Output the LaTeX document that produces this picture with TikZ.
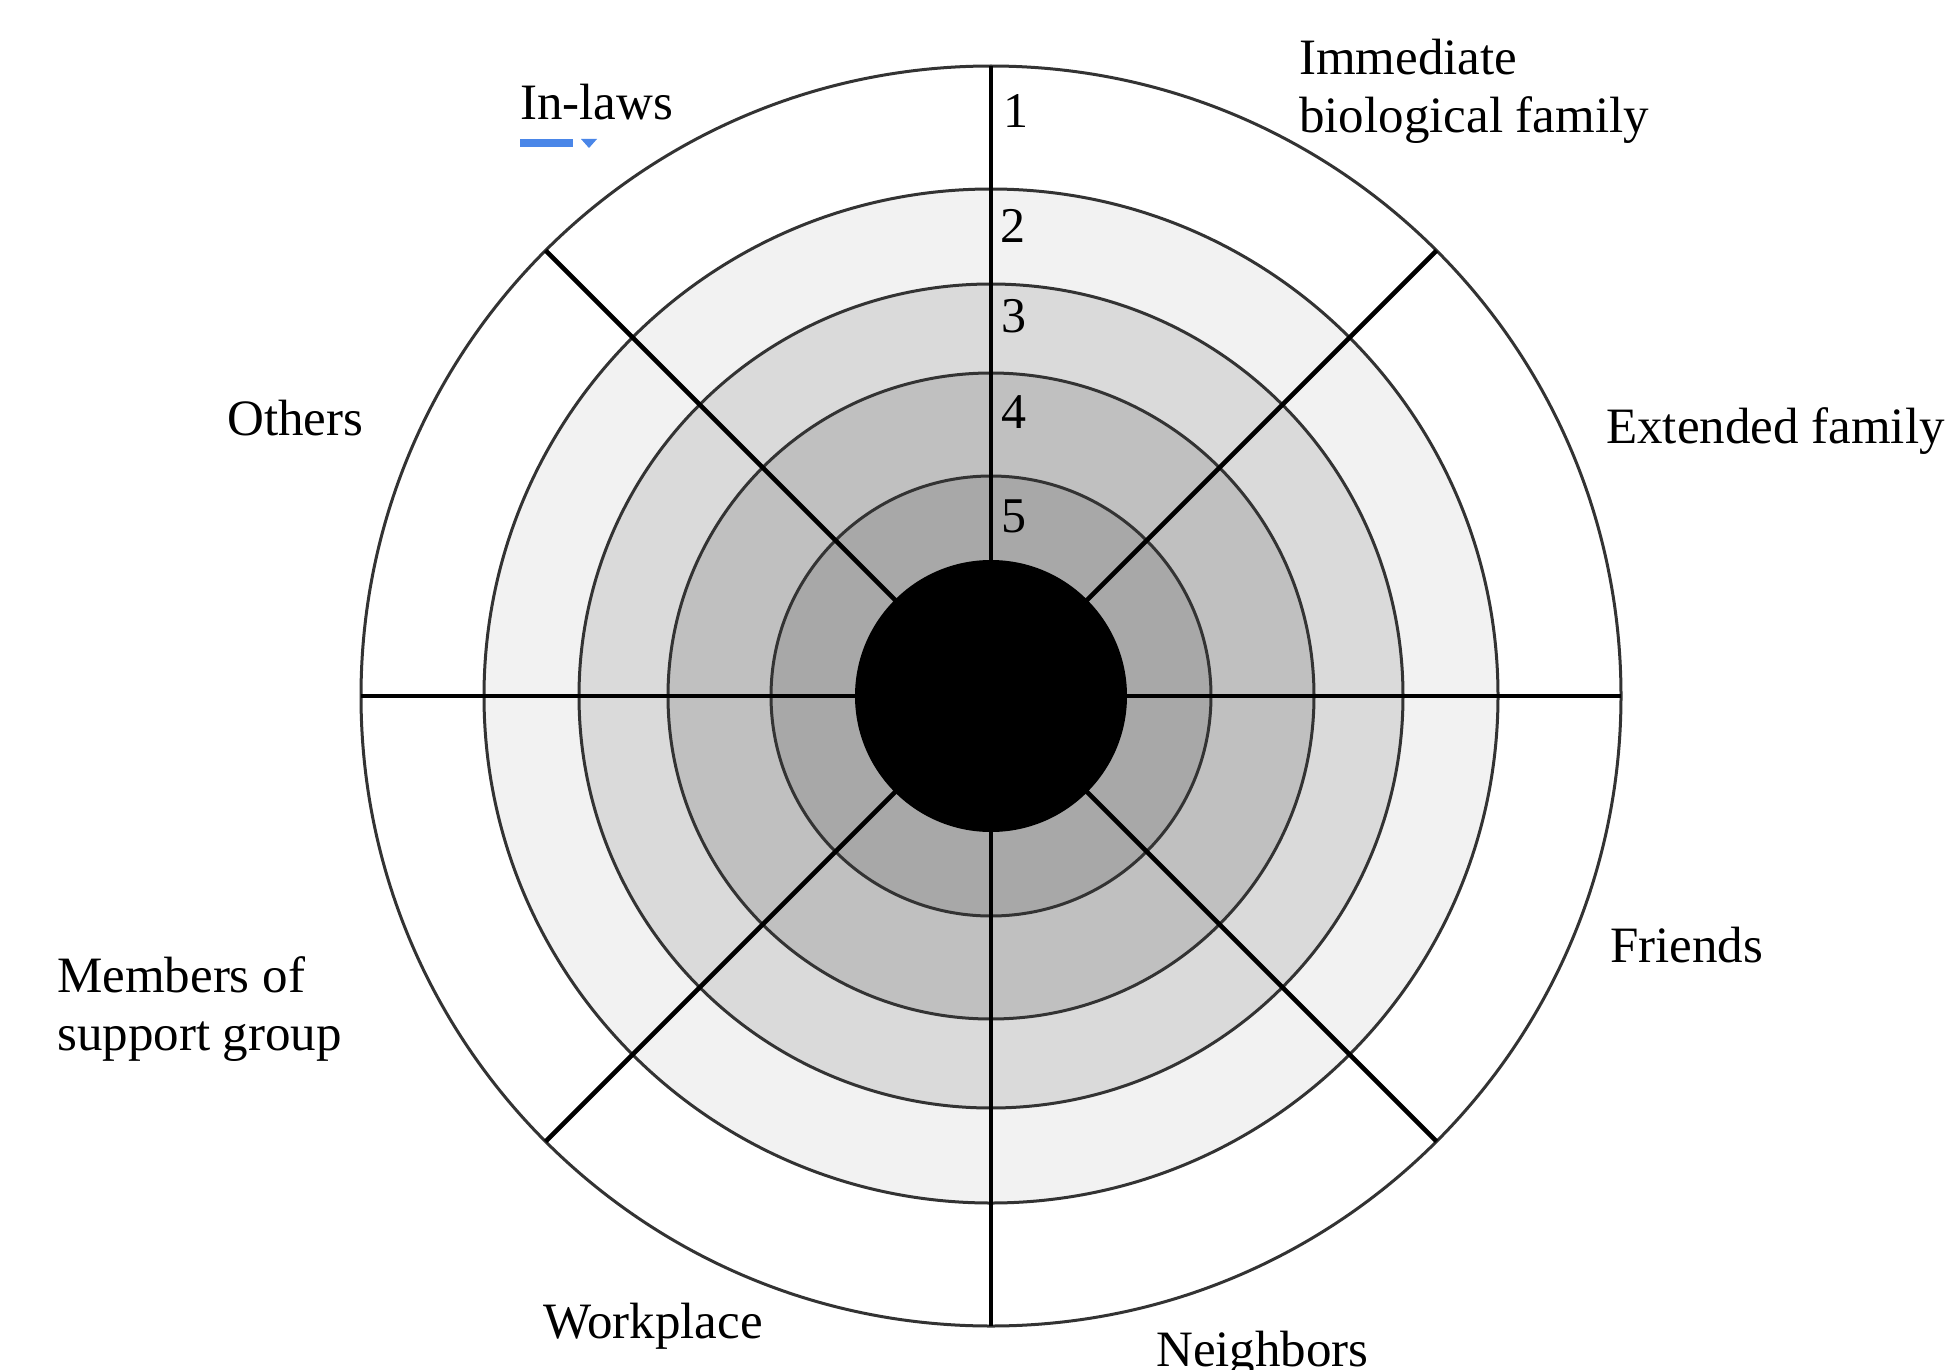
\documentclass[tikz,border=0pt]{standalone}
\usepackage{fontspec}
\usetikzlibrary{calc}
\setmainfont{Liberation Serif}
\definecolor{ringA}{HTML}{F2F2F2}
\definecolor{ringB}{HTML}{DADADA}
\definecolor{ringC}{HTML}{C0C0C0}
\definecolor{ringD}{HTML}{A8A8A8}
\definecolor{ringline}{HTML}{333333}
\definecolor{markblue}{HTML}{4A86E8}
\begin{document}
\begin{tikzpicture}[x=1pt,y=-1pt,
  lbl/.style={anchor=base west,inner sep=0pt,font=\fontsize{51}{58}\selectfont},
  num/.style={anchor=base west,inner sep=0pt,font=\fontsize{50}{58}\selectfont},
  ring/.style={draw=ringline,line width=3pt},
  spoke/.style={draw=black,line width=4.6pt}]
\useasboundingbox[fill=white] (0,0) rectangle (1947,1370);
\coordinate (c) at (991,696);
% rings
\fill[white] (c) circle[radius=630];
\filldraw[ring,fill=ringA] (c) circle[radius=507];
\filldraw[ring,fill=ringB] (c) circle[radius=412];
\filldraw[ring,fill=ringC] (c) circle[radius=323];
\filldraw[ring,fill=ringD] (c) circle[radius=220];
\draw[ring] (c) circle[radius=630];
% spokes
\draw[spoke] ($(c)+(0,-630)$) -- ($(c)+(0,630)$);
\draw[spoke] ($(c)+(-630,0)$) -- ($(c)+(630,0)$);
\draw[spoke] ($(c)+(135:630)$) -- ($(c)+(-45:630)$);
\draw[spoke] ($(c)+(45:630)$) -- ($(c)+(-135:630)$);
% centre
\fill[black] (c) circle[radius=136];
% numbers
\node[num] (n1) at (1003,128) {1};
\node[num] (n2) at (1000,242) {2};
\node[num] (n3) at (1001,332) {3};
\node[num] (n4) at (1001,428) {4};
\node[num] (n5) at (1001,532) {5};
% labels
\node[lbl] (imm1) at (1299,75) {Immediate};
\node[lbl] (imm2) at (1299,133) {biological family};
\node[lbl] (inlaws) at (520,120) {In-laws};
\node[lbl] (others) at (227,435) {Others};
\node[lbl] (ext) at (1606,443) {Extended family};
\node[lbl] (friends) at (1610,962) {Friends};
\node[lbl] (mem1) at (57,992) {Members of};
\node[lbl] (mem2) at (57,1050) {support group};
\node[lbl] (work) at (543,1338) {Workplace};
\node[lbl] (neigh) at (1156,1366) {Neighbors};
% blue marker under In-laws
\fill[markblue] (520,139) rectangle (573,147);
\fill[markblue] (581,139) -- (597,139) -- (589,148) -- cycle;
\end{tikzpicture}
\end{document}
